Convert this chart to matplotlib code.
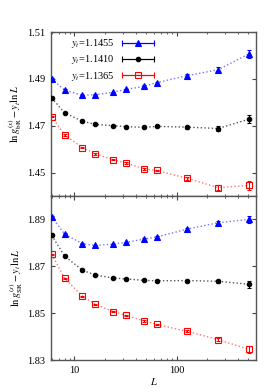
import numpy as np
import matplotlib
matplotlib.use('Agg')
import matplotlib.pyplot as plt
from matplotlib.legend_handler import HandlerErrorbar

plt.rcParams['font.family'] = ['Liberation Serif', 'DejaVu Serif']
plt.rcParams['mathtext.fontset'] = 'stix'
plt.rcParams['font.size'] = 7.5

L = [6, 8, 12, 16, 24, 32, 48, 64, 128, 256, 512]
labels = ['$y_t$=1.1455', '$y_t$=1.1410', '$y_t$=1.1365']

# top panel
top_blue = [1.4900, 1.4852, 1.4830, 1.4832, 1.4843, 1.4855, 1.4868, 1.4884, 1.4914, 1.4939, 1.5007]
top_black = [1.4819, 1.4755, 1.4719, 1.4706, 1.4700, 1.4696, 1.4693, 1.4697, 1.4694, 1.4688, 1.4728]
top_red = [1.4739, 1.4661, 1.4606, 1.4580, 1.4555, 1.4541, 1.4516, 1.4509, 1.4475, 1.4436, 1.4445]
top_err = [0.0003, 0.0003, 0.0003, 0.0003, 0.0003, 0.0003, 0.0004, 0.0004, 0.0006, 0.0010, 0.0018]

# bottom panel
bot_blue = [1.8911, 1.8838, 1.8796, 1.8789, 1.8795, 1.8802, 1.8816, 1.8825, 1.8859, 1.8886, 1.8900]
bot_black = [1.8832, 1.8744, 1.8683, 1.8663, 1.8650, 1.8646, 1.8640, 1.8638, 1.8639, 1.8636, 1.8623]
bot_red = [1.8751, 1.8649, 1.8572, 1.8538, 1.8507, 1.8490, 1.8467, 1.8452, 1.8422, 1.8387, 1.8345]
bot_err = [0.0002, 0.0002, 0.0002, 0.0002, 0.0002, 0.0002, 0.0003, 0.0003, 0.0004, 0.0007, 0.0014]

fig = plt.figure(figsize=(2.8, 3.92), dpi=100)
ax1 = fig.add_axes([51/280, 1 - 196/392, 205/280, 164/392])
ax2 = fig.add_axes([51/280, 1 - 360/392, 205/280, 164/392])

styles = [('#0000ff', '^', 'full', '#7777ff', 4),
          ('#000000', 'o', 'full', '#555555', 3.2),
          ('#ff0000', 's', 'none', '#ff7777', 3.8)]

def draw(ax, series, errs):
    for (c, m, fill, lc, ms), y, e, lab in zip(styles, series, errs, labels):
        ax.plot(L, y, ls=':', color=lc, lw=1.0, zorder=1)
        ax.errorbar(L, y, yerr=e, fmt=m, color=c, ms=ms,
                    mfc=c if fill == 'full' else 'none', mew=0.8,
                    elinewidth=0.8, capsize=1.5, zorder=3)
        ax.errorbar([np.nan], [np.nan], xerr=[1], fmt='-' + m, color=c, ms=ms,
                    mfc=c if fill == 'full' else 'none', mew=0.8, lw=0.8,
                    elinewidth=0.8, capsize=2, label=lab)
    ax.set_xscale('log')
    ax.set_xlim(5.9, 600)
    ax.tick_params(which='both', direction='in', top=True, right=True,
                   color='#444444', labelsize=7.5, pad=4)
    ax.tick_params(which='major', length=3)
    ax.tick_params(which='minor', length=1.5)
    for s in ax.spines.values():
        s.set_color('#555555')
        s.set_linewidth(1.0)

draw(ax1, [top_blue, top_black, top_red], [top_err, top_err, top_err])
draw(ax2, [bot_blue, bot_black, bot_red], [bot_err, bot_err, bot_err])

ax1.set_ylim(1.44, 1.51)
ax1.set_yticks([1.45, 1.47, 1.49, 1.51])
ax1.set_yticklabels(['1.45', '1.47', '1.49', '1.51'])
ax1.tick_params(labelbottom=False)
ax1.set_ylabel(r'$\ln g^{(x)}_{\rm bR} - y_t \ln L$', labelpad=2)

ax2.set_ylim(1.83, 1.90)
ax2.set_yticks([1.83, 1.85, 1.87, 1.89])
ax2.set_yticklabels(['1.83', '1.85', '1.87', '1.89'])
ax2.set_xticks([10, 100])
ax2.set_xticklabels(['10', '100'])
ax2.set_xlabel('$L$', labelpad=1)
ax2.set_ylabel(r'$\ln g^{(s)}_{\rm SR} - y_t \ln L$', labelpad=2)

ax1.legend(loc='upper left', bbox_to_anchor=(0.05, 1.025), frameon=False,
           markerfirst=False, handlelength=3.0, labelspacing=0.3,
           fontsize=7.5, handletextpad=0.8,
           handler_map={type(ax1.containers[1]): HandlerErrorbar(xerr_size=1.5)})

fig.savefig('out.png', dpi=100)
